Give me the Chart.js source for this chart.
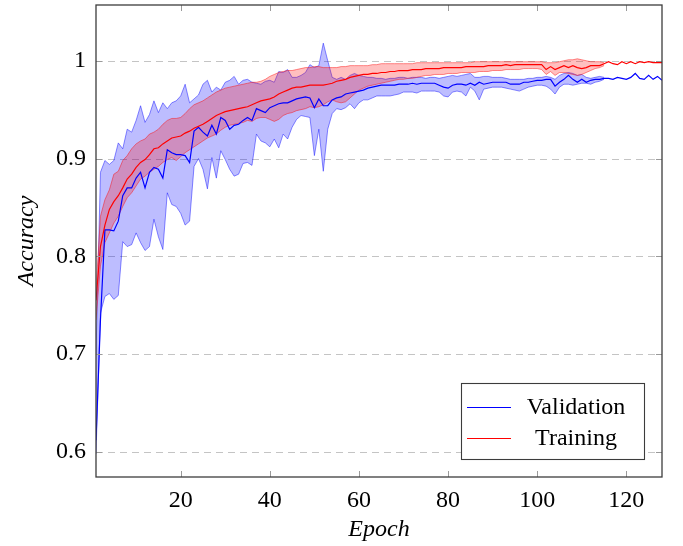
<!DOCTYPE html>
<html>
<head>
<meta charset="utf-8">
<script src="https://cdn.jsdelivr.net/npm/chart.js@4"></script>
<style>
  body { margin: 0; background: #fff; }
  #box { width: 683px; height: 546px; position: relative; }
</style>
</head>
<body>
<div id="box"><canvas id="grafico"></canvas></div>
<script>
// epochs 1..128
const epochs = Array.from({ length: 128 }, (_, i) => i + 1);

const valMean = [
  0.612, 0.735, 0.827, 0.827, 0.826, 0.836, 0.862, 0.870, 0.870, 0.880,
  0.886, 0.870, 0.886, 0.891, 0.889, 0.880, 0.909, 0.906, 0.904, 0.904,
  0.903, 0.896, 0.928, 0.932, 0.927, 0.923, 0.934, 0.925, 0.942, 0.939,
  0.930, 0.934, 0.935, 0.939, 0.942, 0.939, 0.951, 0.949, 0.947, 0.952,
  0.954, 0.956, 0.957, 0.957, 0.959, 0.961, 0.962, 0.963, 0.962, 0.952,
  0.961, 0.954, 0.954, 0.960, 0.962, 0.963, 0.966, 0.967, 0.968, 0.969,
  0.970, 0.972, 0.973, 0.974, 0.975, 0.975, 0.975, 0.975, 0.976, 0.976,
  0.976, 0.977, 0.976, 0.977, 0.977, 0.977, 0.977, 0.975, 0.973, 0.972,
  0.975, 0.976, 0.976, 0.975, 0.977, 0.975, 0.978, 0.976, 0.977, 0.978,
  0.978, 0.978, 0.978, 0.976, 0.976, 0.976, 0.978, 0.978, 0.979, 0.980,
  0.980, 0.981, 0.981, 0.974, 0.978, 0.981, 0.985, 0.981, 0.978, 0.981,
  0.978, 0.980, 0.981, 0.981, 0.982, 0.982, 0.981, 0.983, 0.982, 0.981,
  0.983, 0.987, 0.982, 0.981, 0.985, 0.981, 0.984, 0.980
];
const valUpper = [
  0.700, 0.886, 0.898, 0.894, 0.898, 0.916, 0.910, 0.930, 0.927, 0.939,
  0.954, 0.937, 0.945, 0.959, 0.947, 0.957, 0.951, 0.957, 0.959, 0.964,
  0.976, 0.957, 0.961, 0.965, 0.976, 0.980, 0.968, 0.973, 0.970, 0.978,
  0.980, 0.984, 0.976, 0.980, 0.981, 0.978, 0.977, 0.976, 0.979, 0.980,
  0.978, 0.989, 0.988, 0.991, 0.983, 0.983, 0.985, 0.988, 0.996, 0.993,
  0.995, 1.018, 1.000, 0.983, 0.981, 0.983, 0.981, 0.985, 0.987, 0.985,
  0.984, 0.983, 0.983, 0.982, 0.982, 0.981, 0.982, 0.982, 0.983, 0.983,
  0.982, 0.983, 0.983, 0.983, 0.982, 0.983, 0.983, 0.982, 0.983, 0.984,
  0.985, 0.984, 0.985, 0.986, 0.987, 0.983, 0.983, 0.984, 0.984, 0.983,
  0.983, 0.983, 0.982, 0.981, 0.981, 0.981, 0.981, 0.982, 0.982, 0.983,
  0.983, 0.984, 0.983, 0.981, 0.985, 0.987, 0.988, 0.987, 0.985, 0.986,
  0.983, 0.982, 0.983, 0.984, 0.983
];
const valLower = [
  0.598, 0.742, 0.759, 0.762, 0.756, 0.760, 0.815, 0.810, 0.812, 0.824,
  0.814, 0.806, 0.810, 0.838, 0.820, 0.807, 0.865, 0.853, 0.851, 0.844,
  0.832, 0.836, 0.892, 0.900, 0.889, 0.869, 0.901, 0.880, 0.908, 0.899,
  0.889, 0.882, 0.884, 0.895, 0.896, 0.893, 0.925, 0.918, 0.916, 0.912,
  0.920, 0.911, 0.925, 0.920, 0.932, 0.940, 0.944, 0.943, 0.942, 0.903,
  0.930, 0.887, 0.930, 0.946, 0.951, 0.950, 0.952, 0.956, 0.951, 0.957,
  0.960, 0.960, 0.962, 0.964, 0.964, 0.964, 0.964, 0.965, 0.966, 0.968,
  0.968, 0.968, 0.967, 0.969, 0.969, 0.969, 0.969, 0.968, 0.964, 0.963,
  0.968, 0.969, 0.968, 0.964, 0.973, 0.969, 0.960, 0.971, 0.972, 0.973,
  0.973, 0.973, 0.972, 0.971, 0.970, 0.969, 0.971, 0.973, 0.974, 0.975,
  0.975, 0.974, 0.971, 0.966, 0.973, 0.976, 0.976, 0.975, 0.976, 0.977,
  0.977, 0.976, 0.978, 0.979, 0.981
];

const trainMean = [
  0.755, 0.810, 0.832, 0.848, 0.856, 0.862, 0.870, 0.879, 0.884, 0.891,
  0.896, 0.899, 0.904, 0.910, 0.911, 0.915, 0.918, 0.921, 0.922, 0.923,
  0.926, 0.928, 0.931, 0.933, 0.935, 0.938, 0.941, 0.944, 0.946, 0.948,
  0.949, 0.950, 0.951, 0.952, 0.953, 0.955, 0.957, 0.959, 0.960, 0.961,
  0.963, 0.966, 0.968, 0.970, 0.972, 0.973, 0.973, 0.974, 0.975, 0.975,
  0.975, 0.975, 0.976, 0.977, 0.979, 0.980, 0.981, 0.983, 0.984, 0.985,
  0.986, 0.986, 0.987, 0.987, 0.988, 0.988, 0.989, 0.989, 0.990, 0.990,
  0.990, 0.991, 0.991, 0.991, 0.992, 0.992, 0.992, 0.992, 0.993, 0.993,
  0.993, 0.993, 0.993, 0.994, 0.994, 0.994, 0.994, 0.994, 0.995, 0.995,
  0.995, 0.995, 0.996, 0.995, 0.996, 0.996, 0.996, 0.996, 0.996, 0.996,
  0.996, 0.991, 0.994, 0.991, 0.993, 0.995, 0.993, 0.995, 0.993, 0.992,
  0.993, 0.995, 0.995, 0.995, 0.997, 0.999, 0.997, 0.996, 0.999, 0.997,
  0.999, 0.997, 0.999, 0.998, 0.999, 0.998, 0.998, 0.998
];
const trainUpper = [
  0.765, 0.841, 0.858, 0.868, 0.884, 0.887, 0.898, 0.903, 0.910, 0.915,
  0.918, 0.920, 0.925, 0.927, 0.930, 0.935, 0.939, 0.941, 0.941, 0.942,
  0.946, 0.951, 0.955, 0.957, 0.959, 0.962, 0.965, 0.968, 0.970, 0.972,
  0.973, 0.974, 0.975, 0.976, 0.977, 0.978, 0.978, 0.979, 0.981, 0.984,
  0.986, 0.988, 0.989, 0.990, 0.990, 0.991, 0.992, 0.993, 0.993, 0.994,
  0.994, 0.993, 0.993, 0.993, 0.993, 0.994, 0.994, 0.995, 0.995, 0.995,
  0.995, 0.995, 0.996, 0.996, 0.997, 0.997, 0.997, 0.997, 0.997, 0.997,
  0.997, 0.997, 0.998, 0.998, 0.998, 0.998, 0.998, 0.998, 0.998, 0.998,
  0.998, 0.998, 0.998, 0.998, 0.998, 0.999, 0.999, 0.999, 0.999, 0.999,
  0.999, 0.999, 0.999, 0.999, 0.999, 0.999, 0.999, 0.999, 0.999, 0.999,
  0.999, 0.998, 0.998, 0.998, 0.999, 1.000, 1.001, 1.001, 1.002, 1.001,
  1.000, 0.999, 0.999, 0.999, 0.998
];
const trainLower = [
  0.735, 0.790, 0.814, 0.824, 0.834, 0.841, 0.851, 0.860, 0.865, 0.872,
  0.879, 0.882, 0.886, 0.889, 0.892, 0.896, 0.899, 0.901, 0.898, 0.902,
  0.906, 0.909, 0.912, 0.915, 0.918, 0.921, 0.923, 0.925, 0.929, 0.932,
  0.934, 0.935, 0.936, 0.937, 0.939, 0.938, 0.941, 0.942, 0.942, 0.940,
  0.938, 0.940, 0.944, 0.946, 0.947, 0.949, 0.950, 0.951, 0.953, 0.952,
  0.953, 0.955, 0.958, 0.960, 0.958, 0.957, 0.958, 0.962, 0.966, 0.970,
  0.972, 0.974, 0.975, 0.976, 0.977, 0.978, 0.979, 0.980, 0.981, 0.981,
  0.982, 0.982, 0.983, 0.984, 0.985, 0.985, 0.986, 0.986, 0.986, 0.987,
  0.987, 0.987, 0.988, 0.988, 0.988, 0.988, 0.989, 0.989, 0.989, 0.990,
  0.990, 0.990, 0.991, 0.991, 0.991, 0.991, 0.992, 0.992, 0.992, 0.992,
  0.991, 0.986, 0.989, 0.985, 0.988, 0.988, 0.987, 0.986, 0.985, 0.986,
  0.988, 0.990, 0.992, 0.993, 0.995
];

const xTicks = [20, 40, 60, 80, 100, 120];
const yTicks = [0.6, 0.7, 0.8, 0.9, 1];
const legendNames = ['Validation', 'Training'];

const FONT = '"Liberation Serif"';

function pts(arr) {
  return arr.map((v, i) => ({ x: epochs[i], y: v }));
}

// dashed grid, inward ticks, frame and legend box
const quadro = {
  id: 'quadro',
  beforeDatasetsDraw(chart) {
    const { ctx, chartArea: a, scales } = chart;
    ctx.save();
    ctx.strokeStyle = '#c4c4c4';
    ctx.lineWidth = 1;
    ctx.setLineDash([7, 5]);
    yTicks.forEach(v => {
      const y = Math.round(scales.y.getPixelForValue(v)) + 0.5;
      ctx.beginPath();
      ctx.moveTo(a.left, y);
      ctx.lineTo(a.right, y);
      ctx.stroke();
    });
    ctx.restore();
  },
  afterDatasetsDraw(chart) {
    const { ctx, chartArea: a, scales } = chart;
    ctx.save();
    ctx.strokeStyle = '#9a9a9a';
    ctx.lineWidth = 1;
    xTicks.forEach(v => {
      const x = Math.round(scales.x.getPixelForValue(v)) + 0.5;
      ctx.beginPath();
      ctx.moveTo(x, a.bottom); ctx.lineTo(x, a.bottom - 6);
      ctx.moveTo(x, a.top); ctx.lineTo(x, a.top + 6);
      ctx.stroke();
    });
    yTicks.forEach(v => {
      const y = Math.round(scales.y.getPixelForValue(v)) + 0.5;
      ctx.beginPath();
      ctx.moveTo(a.left, y); ctx.lineTo(a.left + 6, y);
      ctx.moveTo(a.right, y); ctx.lineTo(a.right - 6, y);
      ctx.stroke();
    });
    ctx.strokeStyle = '#3c3c3c';
    ctx.lineWidth = 1.3;
    ctx.strokeRect(a.left, a.top, a.right - a.left, a.bottom - a.top);

    // legend
    const bx = 461, by = 383, bw = 183, bh = 76;
    ctx.fillStyle = '#fff';
    ctx.fillRect(bx, by, bw, bh);
    ctx.strokeStyle = '#3c3c3c';
    ctx.lineWidth = 1.1;
    ctx.strokeRect(bx + 0.5, by + 0.5, bw, bh);
    const cores = ['#0000ff', '#ff0000'];
    ctx.font = '24px ' + FONT;
    ctx.textAlign = 'center';
    ctx.textBaseline = 'middle';
    legendNames.forEach((nome, i) => {
      const yy = by + 24 + i * 31;
      ctx.strokeStyle = cores[i];
      ctx.lineWidth = 1.2;
      ctx.beginPath();
      ctx.moveTo(bx + 6, yy + 0.5);
      ctx.lineTo(bx + 50, yy + 0.5);
      ctx.stroke();
      ctx.fillStyle = '#000';
      ctx.fillText(nome, bx + 115, yy + 1);
    });
    ctx.restore();
  }
};

const ctx = document.getElementById('grafico').getContext('2d');
const chart = new Chart(ctx, {
  type: 'line',
  data: {
    datasets: [
      { label: 'Training', data: pts(trainMean), borderColor: '#ff0000', borderWidth: 1.2, fill: false },
      { label: 'Validation', data: pts(valMean), borderColor: '#0000ff', borderWidth: 1.2, fill: false },
      { label: 'train low', data: pts(trainLower), borderColor: 'rgba(255,0,0,0.5)', borderWidth: 0.9, fill: false },
      { label: 'train high', data: pts(trainUpper), borderColor: 'rgba(255,0,0,0.5)', borderWidth: 0.9,
        fill: '-1', backgroundColor: 'rgba(255,0,0,0.25)' },
      { label: 'val low', data: pts(valLower), borderColor: 'rgba(0,0,255,0.5)', borderWidth: 0.9, fill: false },
      { label: 'val high', data: pts(valUpper), borderColor: 'rgba(0,0,255,0.5)', borderWidth: 0.9,
        fill: '-1', backgroundColor: 'rgba(0,0,255,0.26)' }
    ]
  },
  options: {
    responsive: true,
    maintainAspectRatio: false,
    devicePixelRatio: 1,
    animation: false,
    layout: { padding: { top: 5, right: 21, left: 0, bottom: 0 } },
    elements: { point: { radius: 0 }, line: { tension: 0 } },
    plugins: { legend: { display: false }, tooltip: { enabled: false } },
    scales: {
      x: {
        type: 'linear',
        min: 1,
        max: 128,
        afterBuildTicks: s => { s.ticks = xTicks.map(v => ({ value: v })); },
        afterFit: s => { s.height = 69; s.paddingLeft = 0; s.paddingRight = 0; },
        grid: { display: false, drawTicks: false },
        border: { display: false },
        ticks: { color: '#000', padding: 9, maxRotation: 0, font: { family: FONT, size: 24 } },
        title: { display: true, text: 'Epoch', color: '#000', padding: { top: 0, bottom: 2 },
                 font: { family: FONT, size: 24, style: 'italic' } }
      },
      y: {
        min: 0.5744,
        max: 1.057,
        afterBuildTicks: s => { s.ticks = yTicks.map(v => ({ value: v })); },
        afterFit: s => { s.width = 96; s.paddingTop = 0; s.paddingBottom = 0; },
        grid: { display: false, drawTicks: false },
        border: { display: false },
        ticks: { color: '#000', padding: 10, font: { family: FONT, size: 24 },
                 callback: v => String(v) },
        title: { display: true, text: 'Accuracy', color: '#000', padding: { top: 12, bottom: 0 },
                 font: { family: FONT, size: 24, style: 'italic' } }
      }
    }
  },
  plugins: [quadro]
});
</script>
</body>
</html>
